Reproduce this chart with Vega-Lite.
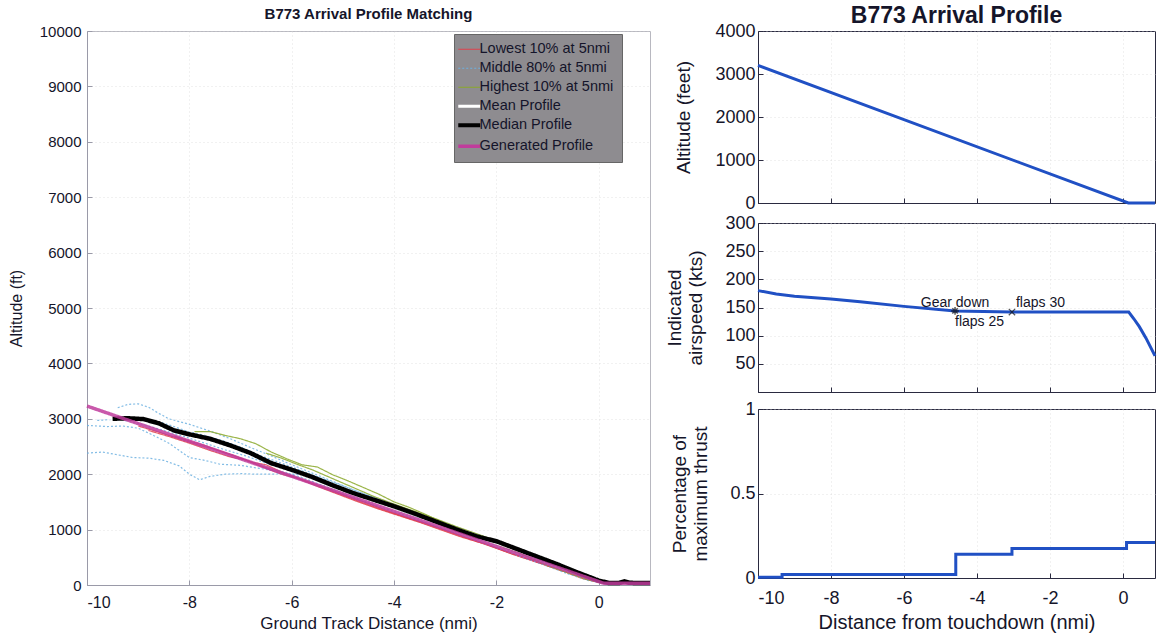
{
  "$schema": "https://vega.github.io/schema/vega-lite/v6.json",
  "padding": {"left": 7, "top": 4, "right": 0, "bottom": 0},
  "background": "white",
  "config": {
    "font": "Liberation Sans",
    "axis": {"labelFont": "Liberation Sans", "titleFont": "Liberation Sans", "labelColor": "#15152a", "titleColor": "#15152a", "titleFontWeight": "normal", "domainColor": "#2a2a40", "tickColor": "#2a2a40", "gridColor": "#d0d0d0", "gridDash": [1, 3], "gridOpacity": 0.6, "tickSize": -5, "labelPadding": 6, "labelOverlap": false},
    "title": {"font": "Liberation Sans", "fontWeight": "bold", "color": "#15152a", "frame": "group", "anchor": "middle"},
    "legend": {"labelFont": "Liberation Sans"}
  },
  "datasets": {
    "traj": [
      {"id": "gen", "g": "gen", "x": -10, "y": 3230}, {"id": "gen", "g": "gen", "x": 0.1, "y": 30}, {"id": "gen", "g": "gen", "x": 1.0, "y": 30},
      {"id": "med", "g": "med", "x": -9.5, "y": 3000}, {"id": "med", "g": "med", "x": -9.2, "y": 3010}, {"id": "med", "g": "med", "x": -8.9, "y": 2995}, {"id": "med", "g": "med", "x": -8.6, "y": 2920}, {"id": "med", "g": "med", "x": -8.3, "y": 2790}, {"id": "med", "g": "med", "x": -8.0, "y": 2720}, {"id": "med", "g": "med", "x": -7.6, "y": 2640}, {"id": "med", "g": "med", "x": -7.2, "y": 2520}, {"id": "med", "g": "med", "x": -6.8, "y": 2380}, {"id": "med", "g": "med", "x": -6.4, "y": 2200}, {"id": "med", "g": "med", "x": -6.0, "y": 2080}, {"id": "med", "g": "med", "x": -5.6, "y": 1950}, {"id": "med", "g": "med", "x": -5.2, "y": 1800}, {"id": "med", "g": "med", "x": -4.8, "y": 1660}, {"id": "med", "g": "med", "x": -4.4, "y": 1540}, {"id": "med", "g": "med", "x": -4.0, "y": 1420}, {"id": "med", "g": "med", "x": -3.6, "y": 1290}, {"id": "med", "g": "med", "x": -3.2, "y": 1150}, {"id": "med", "g": "med", "x": -2.8, "y": 1010}, {"id": "med", "g": "med", "x": -2.4, "y": 880}, {"id": "med", "g": "med", "x": -2.0, "y": 790}, {"id": "med", "g": "med", "x": -1.6, "y": 650}, {"id": "med", "g": "med", "x": -1.2, "y": 510}, {"id": "med", "g": "med", "x": -0.8, "y": 370}, {"id": "med", "g": "med", "x": -0.4, "y": 220}, {"id": "med", "g": "med", "x": 0.0, "y": 80}, {"id": "med", "g": "med", "x": 0.2, "y": 35}, {"id": "med", "g": "med", "x": 0.4, "y": 38}, {"id": "med", "g": "med", "x": 0.5, "y": 65}, {"id": "med", "g": "med", "x": 0.6, "y": 40}, {"id": "med", "g": "med", "x": 0.8, "y": 35}, {"id": "med", "g": "med", "x": 1.0, "y": 35},
      {"id": "mean", "g": "mean", "x": -9.6, "y": 3010}, {"id": "mean", "g": "mean", "x": -9.0, "y": 2960}, {"id": "mean", "g": "mean", "x": -8.5, "y": 2830}, {"id": "mean", "g": "mean", "x": -8.0, "y": 2690}, {"id": "mean", "g": "mean", "x": -7.5, "y": 2560}, {"id": "mean", "g": "mean", "x": -7.0, "y": 2420}, {"id": "mean", "g": "mean", "x": -6.5, "y": 2240}, {"id": "mean", "g": "mean", "x": -6.0, "y": 2060}, {"id": "mean", "g": "mean", "x": -5.5, "y": 1900}, {"id": "mean", "g": "mean", "x": -5.0, "y": 1720}, {"id": "mean", "g": "mean", "x": -4.5, "y": 1540}, {"id": "mean", "g": "mean", "x": -4.0, "y": 1380}, {"id": "mean", "g": "mean", "x": -3.5, "y": 1230}, {"id": "mean", "g": "mean", "x": -3.0, "y": 1060}, {"id": "mean", "g": "mean", "x": -2.5, "y": 900}, {"id": "mean", "g": "mean", "x": -2.0, "y": 750}, {"id": "mean", "g": "mean", "x": -1.5, "y": 590}, {"id": "mean", "g": "mean", "x": -1.0, "y": 430}, {"id": "mean", "g": "mean", "x": -0.5, "y": 270}, {"id": "mean", "g": "mean", "x": 0.0, "y": 100}, {"id": "mean", "g": "mean", "x": 0.2, "y": 35}, {"id": "mean", "g": "mean", "x": 1.0, "y": 35},
      {"id": "L1", "g": "L", "x": -9.0, "y": 2870}, {"id": "L1", "g": "L", "x": -8.6, "y": 2760}, {"id": "L1", "g": "L", "x": -8.2, "y": 2640}, {"id": "L1", "g": "L", "x": -7.8, "y": 2520}, {"id": "L1", "g": "L", "x": -7.5, "y": 2450}, {"id": "L1", "g": "L", "x": -7.2, "y": 2360}, {"id": "L1", "g": "L", "x": -6.8, "y": 2220}, {"id": "L1", "g": "L", "x": -6.5, "y": 2170}, {"id": "L1", "g": "L", "x": -6.2, "y": 2040}, {"id": "L1", "g": "L", "x": -5.8, "y": 1900}, {"id": "L1", "g": "L", "x": -5.4, "y": 1760}, {"id": "L1", "g": "L", "x": -5.0, "y": 1620}, {"id": "L1", "g": "L", "x": -4.6, "y": 1480}, {"id": "L1", "g": "L", "x": -4.2, "y": 1350}, {"id": "L1", "g": "L", "x": -3.8, "y": 1230}, {"id": "L1", "g": "L", "x": -3.4, "y": 1120}, {"id": "L1", "g": "L", "x": -3.0, "y": 990}, {"id": "L1", "g": "L", "x": -2.6, "y": 860}, {"id": "L1", "g": "L", "x": -2.2, "y": 740}, {"id": "L1", "g": "L", "x": -1.8, "y": 600}, {"id": "L1", "g": "L", "x": -1.4, "y": 480}, {"id": "L1", "g": "L", "x": -1.0, "y": 350}, {"id": "L1", "g": "L", "x": -0.6, "y": 230}, {"id": "L1", "g": "L", "x": -0.2, "y": 100}, {"id": "L1", "g": "L", "x": 0.1, "y": 30}, {"id": "L1", "g": "L", "x": 0.8, "y": 30},
      {"id": "L2", "g": "L", "x": -8.8, "y": 2790}, {"id": "L2", "g": "L", "x": -8.4, "y": 2680}, {"id": "L2", "g": "L", "x": -8.0, "y": 2560}, {"id": "L2", "g": "L", "x": -7.6, "y": 2430}, {"id": "L2", "g": "L", "x": -7.2, "y": 2310}, {"id": "L2", "g": "L", "x": -6.9, "y": 2260}, {"id": "L2", "g": "L", "x": -6.6, "y": 2140}, {"id": "L2", "g": "L", "x": -6.2, "y": 2000}, {"id": "L2", "g": "L", "x": -5.9, "y": 1930}, {"id": "L2", "g": "L", "x": -5.5, "y": 1780}, {"id": "L2", "g": "L", "x": -5.1, "y": 1640}, {"id": "L2", "g": "L", "x": -4.7, "y": 1500}, {"id": "L2", "g": "L", "x": -4.3, "y": 1370}, {"id": "L2", "g": "L", "x": -3.9, "y": 1250}, {"id": "L2", "g": "L", "x": -3.5, "y": 1130}, {"id": "L2", "g": "L", "x": -3.1, "y": 1000}, {"id": "L2", "g": "L", "x": -2.7, "y": 870}, {"id": "L2", "g": "L", "x": -2.3, "y": 760}, {"id": "L2", "g": "L", "x": -1.9, "y": 630}, {"id": "L2", "g": "L", "x": -1.5, "y": 500}, {"id": "L2", "g": "L", "x": -1.1, "y": 380}, {"id": "L2", "g": "L", "x": -0.7, "y": 250}, {"id": "L2", "g": "L", "x": -0.3, "y": 110}, {"id": "L2", "g": "L", "x": 0.1, "y": 30}, {"id": "L2", "g": "L", "x": 0.9, "y": 30},
      {"id": "L3", "g": "L", "x": -8.3, "y": 2690}, {"id": "L3", "g": "L", "x": -8.0, "y": 2600}, {"id": "L3", "g": "L", "x": -7.7, "y": 2520}, {"id": "L3", "g": "L", "x": -7.3, "y": 2380}, {"id": "L3", "g": "L", "x": -7.0, "y": 2290}, {"id": "L3", "g": "L", "x": -6.6, "y": 2150}, {"id": "L3", "g": "L", "x": -6.3, "y": 2060}, {"id": "L3", "g": "L", "x": -6.0, "y": 1960}, {"id": "L3", "g": "L", "x": -5.7, "y": 1870}, {"id": "L3", "g": "L", "x": -5.3, "y": 1740}, {"id": "L3", "g": "L", "x": -4.9, "y": 1600}, {"id": "L3", "g": "L", "x": -4.5, "y": 1470}, {"id": "L3", "g": "L", "x": -4.1, "y": 1330}, {"id": "L3", "g": "L", "x": -3.7, "y": 1200}, {"id": "L3", "g": "L", "x": -3.3, "y": 1080}, {"id": "L3", "g": "L", "x": -2.9, "y": 950}, {"id": "L3", "g": "L", "x": -2.5, "y": 820}, {"id": "L3", "g": "L", "x": -2.1, "y": 700}, {"id": "L3", "g": "L", "x": -1.7, "y": 560}, {"id": "L3", "g": "L", "x": -1.3, "y": 440}, {"id": "L3", "g": "L", "x": -0.9, "y": 310}, {"id": "L3", "g": "L", "x": -0.5, "y": 190}, {"id": "L3", "g": "L", "x": -0.1, "y": 70}, {"id": "L3", "g": "L", "x": 0.1, "y": 30}, {"id": "L3", "g": "L", "x": 0.7, "y": 30},
      {"id": "M1", "g": "M", "x": -10, "y": 2380}, {"id": "M1", "g": "M", "x": -9.7, "y": 2400}, {"id": "M1", "g": "M", "x": -9.4, "y": 2350}, {"id": "M1", "g": "M", "x": -9.1, "y": 2300}, {"id": "M1", "g": "M", "x": -8.8, "y": 2290}, {"id": "M1", "g": "M", "x": -8.5, "y": 2250}, {"id": "M1", "g": "M", "x": -8.2, "y": 2150}, {"id": "M1", "g": "M", "x": -8.0, "y": 2000}, {"id": "M1", "g": "M", "x": -7.8, "y": 1900}, {"id": "M1", "g": "M", "x": -7.6, "y": 1960}, {"id": "M1", "g": "M", "x": -7.3, "y": 2000}, {"id": "M1", "g": "M", "x": -7.0, "y": 2010}, {"id": "M1", "g": "M", "x": -6.7, "y": 2000}, {"id": "M1", "g": "M", "x": -6.4, "y": 2000}, {"id": "M1", "g": "M", "x": -6.1, "y": 2010}, {"id": "M1", "g": "M", "x": -5.8, "y": 1990}, {"id": "M1", "g": "M", "x": -5.5, "y": 1900}, {"id": "M1", "g": "M", "x": -5.1, "y": 1760}, {"id": "M1", "g": "M", "x": -4.7, "y": 1620}, {"id": "M1", "g": "M", "x": -4.3, "y": 1480}, {"id": "M1", "g": "M", "x": -3.9, "y": 1340}, {"id": "M1", "g": "M", "x": -3.5, "y": 1210}, {"id": "M1", "g": "M", "x": -3.1, "y": 1080}, {"id": "M1", "g": "M", "x": -2.7, "y": 940}, {"id": "M1", "g": "M", "x": -2.3, "y": 810}, {"id": "M1", "g": "M", "x": -1.9, "y": 680}, {"id": "M1", "g": "M", "x": -1.5, "y": 540}, {"id": "M1", "g": "M", "x": -1.1, "y": 410}, {"id": "M1", "g": "M", "x": -0.7, "y": 270}, {"id": "M1", "g": "M", "x": -0.3, "y": 130}, {"id": "M1", "g": "M", "x": 0.1, "y": 40}, {"id": "M1", "g": "M", "x": 0.6, "y": 40},
      {"id": "M2", "g": "M", "x": -9.4, "y": 3200}, {"id": "M2", "g": "M", "x": -9.2, "y": 3260}, {"id": "M2", "g": "M", "x": -9.0, "y": 3270}, {"id": "M2", "g": "M", "x": -8.8, "y": 3210}, {"id": "M2", "g": "M", "x": -8.6, "y": 3100}, {"id": "M2", "g": "M", "x": -8.4, "y": 3000}, {"id": "M2", "g": "M", "x": -8.0, "y": 2900}, {"id": "M2", "g": "M", "x": -7.6, "y": 2780}, {"id": "M2", "g": "M", "x": -7.2, "y": 2640}, {"id": "M2", "g": "M", "x": -6.8, "y": 2480}, {"id": "M2", "g": "M", "x": -6.4, "y": 2330}, {"id": "M2", "g": "M", "x": -6.0, "y": 2170}, {"id": "M2", "g": "M", "x": -5.6, "y": 2020}, {"id": "M2", "g": "M", "x": -5.2, "y": 1870}, {"id": "M2", "g": "M", "x": -4.8, "y": 1720}, {"id": "M2", "g": "M", "x": -4.4, "y": 1580}, {"id": "M2", "g": "M", "x": -4.0, "y": 1440}, {"id": "M2", "g": "M", "x": -3.6, "y": 1300}, {"id": "M2", "g": "M", "x": -3.2, "y": 1160}, {"id": "M2", "g": "M", "x": -2.8, "y": 1030}, {"id": "M2", "g": "M", "x": -2.4, "y": 900}, {"id": "M2", "g": "M", "x": -2.0, "y": 780}, {"id": "M2", "g": "M", "x": -1.6, "y": 640}, {"id": "M2", "g": "M", "x": -1.2, "y": 500}, {"id": "M2", "g": "M", "x": -0.8, "y": 360}, {"id": "M2", "g": "M", "x": -0.4, "y": 210}, {"id": "M2", "g": "M", "x": 0.0, "y": 70}, {"id": "M2", "g": "M", "x": 0.2, "y": 35}, {"id": "M2", "g": "M", "x": 0.8, "y": 35},
      {"id": "M3", "g": "M", "x": -10, "y": 2880}, {"id": "M3", "g": "M", "x": -9.6, "y": 2860}, {"id": "M3", "g": "M", "x": -9.3, "y": 2870}, {"id": "M3", "g": "M", "x": -9.0, "y": 2830}, {"id": "M3", "g": "M", "x": -8.7, "y": 2700}, {"id": "M3", "g": "M", "x": -8.4, "y": 2560}, {"id": "M3", "g": "M", "x": -8.0, "y": 2300}, {"id": "M3", "g": "M", "x": -7.7, "y": 2250}, {"id": "M3", "g": "M", "x": -7.4, "y": 2180}, {"id": "M3", "g": "M", "x": -7.0, "y": 2160}, {"id": "M3", "g": "M", "x": -6.6, "y": 2100}, {"id": "M3", "g": "M", "x": -6.2, "y": 2050}, {"id": "M3", "g": "M", "x": -5.8, "y": 1940}, {"id": "M3", "g": "M", "x": -5.4, "y": 1800}, {"id": "M3", "g": "M", "x": -5.0, "y": 1660}, {"id": "M3", "g": "M", "x": -4.6, "y": 1520}, {"id": "M3", "g": "M", "x": -4.2, "y": 1390}, {"id": "M3", "g": "M", "x": -3.8, "y": 1260}, {"id": "M3", "g": "M", "x": -3.4, "y": 1130}, {"id": "M3", "g": "M", "x": -3.0, "y": 1000}, {"id": "M3", "g": "M", "x": -2.6, "y": 870}, {"id": "M3", "g": "M", "x": -2.2, "y": 740}, {"id": "M3", "g": "M", "x": -1.8, "y": 610}, {"id": "M3", "g": "M", "x": -1.4, "y": 470}, {"id": "M3", "g": "M", "x": -1.0, "y": 340}, {"id": "M3", "g": "M", "x": -0.6, "y": 200}, {"id": "M3", "g": "M", "x": -0.2, "y": 80}, {"id": "M3", "g": "M", "x": 0.1, "y": 35}, {"id": "M3", "g": "M", "x": 0.7, "y": 35},
      {"id": "M4", "g": "M", "x": -9.0, "y": 3000}, {"id": "M4", "g": "M", "x": -8.6, "y": 2950}, {"id": "M4", "g": "M", "x": -8.3, "y": 2860}, {"id": "M4", "g": "M", "x": -8.0, "y": 2760}, {"id": "M4", "g": "M", "x": -7.7, "y": 2700}, {"id": "M4", "g": "M", "x": -7.4, "y": 2620}, {"id": "M4", "g": "M", "x": -7.0, "y": 2490}, {"id": "M4", "g": "M", "x": -6.6, "y": 2330}, {"id": "M4", "g": "M", "x": -6.2, "y": 2200}, {"id": "M4", "g": "M", "x": -5.8, "y": 2060}, {"id": "M4", "g": "M", "x": -5.4, "y": 1920}, {"id": "M4", "g": "M", "x": -5.0, "y": 1790}, {"id": "M4", "g": "M", "x": -4.6, "y": 1650}, {"id": "M4", "g": "M", "x": -4.2, "y": 1520}, {"id": "M4", "g": "M", "x": -3.8, "y": 1380}, {"id": "M4", "g": "M", "x": -3.4, "y": 1250}, {"id": "M4", "g": "M", "x": -3.0, "y": 1120}, {"id": "M4", "g": "M", "x": -2.6, "y": 980}, {"id": "M4", "g": "M", "x": -2.2, "y": 860}, {"id": "M4", "g": "M", "x": -1.8, "y": 720}, {"id": "M4", "g": "M", "x": -1.4, "y": 580}, {"id": "M4", "g": "M", "x": -1.0, "y": 440}, {"id": "M4", "g": "M", "x": -0.6, "y": 300}, {"id": "M4", "g": "M", "x": -0.2, "y": 150}, {"id": "M4", "g": "M", "x": 0.1, "y": 40}, {"id": "M4", "g": "M", "x": 0.9, "y": 40},
      {"id": "M5", "g": "M", "x": -8.7, "y": 2880}, {"id": "M5", "g": "M", "x": -8.4, "y": 2800}, {"id": "M5", "g": "M", "x": -8.1, "y": 2740}, {"id": "M5", "g": "M", "x": -7.8, "y": 2650}, {"id": "M5", "g": "M", "x": -7.4, "y": 2560}, {"id": "M5", "g": "M", "x": -7.0, "y": 2430}, {"id": "M5", "g": "M", "x": -6.6, "y": 2290}, {"id": "M5", "g": "M", "x": -6.2, "y": 2150}, {"id": "M5", "g": "M", "x": -5.8, "y": 2000}, {"id": "M5", "g": "M", "x": -5.4, "y": 1870}, {"id": "M5", "g": "M", "x": -5.0, "y": 1730}, {"id": "M5", "g": "M", "x": -4.6, "y": 1590}, {"id": "M5", "g": "M", "x": -4.2, "y": 1460}, {"id": "M5", "g": "M", "x": -3.8, "y": 1330}, {"id": "M5", "g": "M", "x": -3.4, "y": 1200}, {"id": "M5", "g": "M", "x": -3.0, "y": 1060}, {"id": "M5", "g": "M", "x": -2.6, "y": 930}, {"id": "M5", "g": "M", "x": -2.2, "y": 800}, {"id": "M5", "g": "M", "x": -1.8, "y": 670}, {"id": "M5", "g": "M", "x": -1.4, "y": 530}, {"id": "M5", "g": "M", "x": -1.0, "y": 400}, {"id": "M5", "g": "M", "x": -0.6, "y": 260}, {"id": "M5", "g": "M", "x": -0.2, "y": 120}, {"id": "M5", "g": "M", "x": 0.1, "y": 35}, {"id": "M5", "g": "M", "x": 1.0, "y": 35},
      {"id": "M6", "g": "M", "x": -9.8, "y": 2970}, {"id": "M6", "g": "M", "x": -9.5, "y": 2990}, {"id": "M6", "g": "M", "x": -9.2, "y": 2960}, {"id": "M6", "g": "M", "x": -8.9, "y": 2900}, {"id": "M6", "g": "M", "x": -8.5, "y": 2790}, {"id": "M6", "g": "M", "x": -8.1, "y": 2680}, {"id": "M6", "g": "M", "x": -7.7, "y": 2560}, {"id": "M6", "g": "M", "x": -7.3, "y": 2440}, {"id": "M6", "g": "M", "x": -6.9, "y": 2330}, {"id": "M6", "g": "M", "x": -6.5, "y": 2200}, {"id": "M6", "g": "M", "x": -6.1, "y": 2080}, {"id": "M6", "g": "M", "x": -5.7, "y": 1960}, {"id": "M6", "g": "M", "x": -5.3, "y": 1820}, {"id": "M6", "g": "M", "x": -4.9, "y": 1690}, {"id": "M6", "g": "M", "x": -4.5, "y": 1560}, {"id": "M6", "g": "M", "x": -4.1, "y": 1430}, {"id": "M6", "g": "M", "x": -3.7, "y": 1300}, {"id": "M6", "g": "M", "x": -3.3, "y": 1160}, {"id": "M6", "g": "M", "x": -2.9, "y": 1020}, {"id": "M6", "g": "M", "x": -2.5, "y": 900}, {"id": "M6", "g": "M", "x": -2.1, "y": 770}, {"id": "M6", "g": "M", "x": -1.7, "y": 630}, {"id": "M6", "g": "M", "x": -1.3, "y": 490}, {"id": "M6", "g": "M", "x": -0.9, "y": 350}, {"id": "M6", "g": "M", "x": -0.5, "y": 210}, {"id": "M6", "g": "M", "x": -0.1, "y": 80}, {"id": "M6", "g": "M", "x": 0.1, "y": 35}, {"id": "M6", "g": "M", "x": 0.6, "y": 35},
      {"id": "H1", "g": "H", "x": -7.9, "y": 2770}, {"id": "H1", "g": "H", "x": -7.6, "y": 2770}, {"id": "H1", "g": "H", "x": -7.3, "y": 2700}, {"id": "H1", "g": "H", "x": -7.0, "y": 2640}, {"id": "H1", "g": "H", "x": -6.7, "y": 2550}, {"id": "H1", "g": "H", "x": -6.4, "y": 2400}, {"id": "H1", "g": "H", "x": -6.1, "y": 2280}, {"id": "H1", "g": "H", "x": -5.8, "y": 2170}, {"id": "H1", "g": "H", "x": -5.5, "y": 2130}, {"id": "H1", "g": "H", "x": -5.2, "y": 1990}, {"id": "H1", "g": "H", "x": -4.9, "y": 1880}, {"id": "H1", "g": "H", "x": -4.6, "y": 1760}, {"id": "H1", "g": "H", "x": -4.3, "y": 1640}, {"id": "H1", "g": "H", "x": -4.0, "y": 1500}, {"id": "H1", "g": "H", "x": -3.7, "y": 1400}, {"id": "H1", "g": "H", "x": -3.4, "y": 1280}, {"id": "H1", "g": "H", "x": -3.1, "y": 1150}, {"id": "H1", "g": "H", "x": -2.8, "y": 1040}, {"id": "H1", "g": "H", "x": -2.5, "y": 920}, {"id": "H1", "g": "H", "x": -2.2, "y": 820}, {"id": "H1", "g": "H", "x": -1.9, "y": 700}, {"id": "H1", "g": "H", "x": -1.6, "y": 600}, {"id": "H1", "g": "H", "x": -1.3, "y": 470}, {"id": "H1", "g": "H", "x": -1.0, "y": 350}, {"id": "H1", "g": "H", "x": -0.6, "y": 220}, {"id": "H1", "g": "H", "x": -0.2, "y": 90}, {"id": "H1", "g": "H", "x": 0.1, "y": 35},
      {"id": "H2", "g": "H", "x": -6.5, "y": 2380}, {"id": "H2", "g": "H", "x": -6.2, "y": 2290}, {"id": "H2", "g": "H", "x": -5.9, "y": 2180}, {"id": "H2", "g": "H", "x": -5.6, "y": 2080}, {"id": "H2", "g": "H", "x": -5.3, "y": 1960}, {"id": "H2", "g": "H", "x": -5.0, "y": 1840}, {"id": "H2", "g": "H", "x": -4.7, "y": 1720}, {"id": "H2", "g": "H", "x": -4.4, "y": 1600}, {"id": "H2", "g": "H", "x": -4.0, "y": 1460}, {"id": "H2", "g": "H", "x": -3.6, "y": 1330}, {"id": "H2", "g": "H", "x": -3.2, "y": 1200}, {"id": "H2", "g": "H", "x": -2.8, "y": 1060}, {"id": "H2", "g": "H", "x": -2.4, "y": 930}, {"id": "H2", "g": "H", "x": -2.0, "y": 800}, {"id": "H2", "g": "H", "x": -1.6, "y": 660}, {"id": "H2", "g": "H", "x": -1.2, "y": 520}, {"id": "H2", "g": "H", "x": -0.8, "y": 380}, {"id": "H2", "g": "H", "x": -0.4, "y": 230}, {"id": "H2", "g": "H", "x": 0.0, "y": 90}, {"id": "H2", "g": "H", "x": 0.15, "y": 35}
    ],
    "alt": [{"x": -10, "y": 3200}, {"x": 0.15, "y": 0}, {"x": 0.88, "y": 0}],
    "ias": [{"x": -10, "y": 180}, {"x": -9.5, "y": 174}, {"x": -9.0, "y": 170}, {"x": -8.0, "y": 165}, {"x": -7.2, "y": 160}, {"x": -6.0, "y": 152}, {"x": -4.6, "y": 144}, {"x": -3.04, "y": 142}, {"x": 0.16, "y": 142}, {"x": 0.3, "y": 130}, {"x": 0.45, "y": 116}, {"x": 0.63, "y": 96}, {"x": 0.88, "y": 64}],
    "thr": [{"x": -10, "y": 0.005}, {"x": -9.34, "y": 0.02}, {"x": -4.58, "y": 0.14}, {"x": -3.04, "y": 0.175}, {"x": 0.1, "y": 0.21}, {"x": 0.88, "y": 0.21}],
    "events": [
      {"x": -4.6, "y": 144, "label": "Gear down", "pos": "above"},
      {"x": -4.6, "y": 144, "label": "flaps 25", "pos": "below"},
      {"x": -3.04, "y": 142, "label": "flaps 30", "pos": "right"}
    ]
  },
  "hconcat": [
    {
      "width": 563,
      "height": 554,
      "title": {"text": "B773 Arrival Profile Matching", "fontSize": 15, "offset": 2},
      "view": {"stroke": "#b8b8c0"},
      "data": {"name": "traj"},
      "encoding": {
        "x": {"field": "x", "type": "quantitative", "scale": {"domain": [-10, 1], "nice": false, "zero": false}, "axis": {"values": [-10, -8, -6, -4, -2, 0], "title": "Ground Track Distance (nmi)", "titleFontSize": 17, "labelFontSize": 16, "labelExpr": "'' + datum.value", "domainColor": "#9a9aa8", "tickColor": "#9a9aa8", "labelPadding": 14, "titlePadding": 5}},
        "y": {"field": "y", "type": "quantitative", "scale": {"domain": [0, 10000], "nice": false}, "axis": {"values": [0, 1000, 2000, 3000, 4000, 5000, 6000, 7000, 8000, 9000, 10000], "title": "Altitude (ft)", "titleFontSize": 16, "labelFontSize": 15, "format": "d", "domainColor": "#9a9aa8", "tickColor": "#9a9aa8", "labelPadding": 11, "titlePadding": 15}},
        "color": {"field": "g", "type": "nominal", "scale": {"domain": ["L", "M", "H", "mean", "med", "gen"], "range": ["#e0404c", "#6cb0e0", "#8aa82a", "#ffffff", "#000000", "#c03c9c"]},
          "legend": {"title": null, "orient": "none", "legendX": 367, "legendY": 3, "fillColor": "#8e8c90", "strokeColor": "#666", "padding": 8, "rowPadding": 4, "labelFontSize": 14.5, "labelColor": "#14142a", "symbolType": "stroke", "symbolSize": 484, "labelOffset": 3,
            "labelExpr": "{'L': 'Lowest 10% at 5nmi', 'M': 'Middle 80% at 5nmi', 'H': 'Highest 10% at 5nmi', 'mean': 'Mean Profile', 'med': 'Median Profile', 'gen': 'Generated Profile'}[datum.label]",
            "encode": {"symbols": {"update": {"strokeWidth": {"signal": "datum.value === 'med' ? 4 : datum.value === 'gen' ? 3.5 : datum.value === 'mean' ? 3 : 1.2"}}}}}},
        "strokeDash": {"field": "g", "type": "nominal", "scale": {"domain": ["L", "M", "H", "mean", "med", "gen"], "range": [[1, 0], [2, 2], [1, 0], [1, 0], [1, 0], [1, 0]]},
          "legend": {"title": null, "orient": "none", "legendX": 367, "legendY": 3, "fillColor": "#8e8c90", "strokeColor": "#666", "padding": 8, "rowPadding": 4, "labelFontSize": 14.5, "labelColor": "#14142a", "symbolType": "stroke", "symbolSize": 484, "labelOffset": 3,
            "labelExpr": "{'L': 'Lowest 10% at 5nmi', 'M': 'Middle 80% at 5nmi', 'H': 'Highest 10% at 5nmi', 'mean': 'Mean Profile', 'med': 'Median Profile', 'gen': 'Generated Profile'}[datum.label]",
            "encode": {"symbols": {"update": {"strokeWidth": {"signal": "datum.value === 'med' ? 4 : datum.value === 'gen' ? 3.5 : datum.value === 'mean' ? 3 : 1.2"}}}}}},
        "detail": {"field": "id"}
      },
      "layer": [
        {"transform": [{"filter": "datum.g == 'L' || datum.g == 'M' || datum.g == 'H'"}], "mark": {"type": "line", "opacity": 0.85, "strokeWidth": 1.2}},
        {"transform": [{"filter": "datum.g == 'mean'"}], "mark": {"type": "line", "strokeWidth": 2.5}},
        {"transform": [{"filter": "datum.g == 'med'"}], "mark": {"type": "line", "strokeWidth": 4.5}},
        {"transform": [{"filter": "datum.g == 'gen'"}], "mark": {"type": "line", "strokeWidth": 3.5, "opacity": 0.85}}
      ]
    },
    {
      "vconcat": [
        {
          "width": 397,
          "height": 172,
          "title": {"text": "B773 Arrival Profile", "fontSize": 23, "offset": -6},
          "view": {"stroke": "#2a2a40"},
          "data": {"name": "alt"},
          "mark": {"type": "line", "color": "#2050c4", "strokeWidth": 3},
          "encoding": {
            "x": {"field": "x", "type": "quantitative", "scale": {"domain": [-10, 0.88], "nice": false, "zero": false}, "axis": {"values": [-10, -8, -6, -4, -2, 0], "labels": false, "title": null}},
            "y": {"field": "y", "type": "quantitative", "scale": {"domain": [0, 4000], "nice": false}, "axis": {"values": [0, 1000, 2000, 3000, 4000], "title": "Altitude (feet)", "titleFontSize": 19, "labelFontSize": 18, "format": "d", "labelPadding": 8, "titlePadding": 21}}
          }
        },
        {
          "vconcat": [
            {
              "width": 397,
              "height": 169,
              "view": {"stroke": "#2a2a40"},
              "encoding": {
                "x": {"field": "x", "type": "quantitative", "scale": {"domain": [-10, 0.88], "nice": false, "zero": false}, "axis": {"values": [-10, -8, -6, -4, -2, 0], "labels": false, "title": null}},
                "y": {"field": "y", "type": "quantitative", "scale": {"domain": [0, 300], "nice": false}, "axis": {"values": [50, 100, 150, 200, 250, 300], "title": ["Indicated", "airspeed (kts)"], "titleFontSize": 19, "labelFontSize": 18, "titleLineHeight": 21, "labelPadding": 8, "titlePadding": 19, "labelOverlap": false, "labelFlush": false}}
              },
              "layer": [
                {
                  "data": {"name": "ias"},
                  "mark": {"type": "line", "color": "#2050c4", "strokeWidth": 3}
                },
                {
                  "data": {"name": "events"},
                  "transform": [{"filter": "datum.pos == 'above'"}],
                  "mark": {"type": "point", "shape": "M-1,0L1,0M0,-1L0,1M-0.7,-0.7L0.7,0.7M-0.7,0.7L0.7,-0.7", "filled": false, "color": "#111", "strokeWidth": 1.5, "size": 60}
                },
                {
                  "data": {"name": "events"},
                  "transform": [{"filter": "datum.pos == 'right'"}],
                  "mark": {"type": "point", "shape": "M-1,-1L1,1M-1,1L1,-1", "filled": false, "color": "#111", "strokeWidth": 1.3, "size": 40}
                },
                {
                  "data": {"name": "events"},
                  "transform": [{"filter": "datum.pos == 'above'"}],
                  "mark": {"type": "text", "align": "center", "baseline": "middle", "dy": -8, "fontSize": 14, "font": "Liberation Sans", "color": "#15152a"},
                  "encoding": {"text": {"field": "label"}}
                },
                {
                  "data": {"name": "events"},
                  "transform": [{"filter": "datum.pos == 'below'"}],
                  "mark": {"type": "text", "align": "left", "baseline": "middle", "dy": 11, "dx": 0, "fontSize": 14, "font": "Liberation Sans", "color": "#15152a"},
                  "encoding": {"text": {"field": "label"}}
                },
                {
                  "data": {"name": "events"},
                  "transform": [{"filter": "datum.pos == 'right'"}],
                  "mark": {"type": "text", "align": "left", "baseline": "middle", "dy": -9, "dx": 4, "fontSize": 14, "font": "Liberation Sans", "color": "#15152a"},
                  "encoding": {"text": {"field": "label"}}
                }
              ]
            },
            {
              "width": 397,
              "height": 169,
              "view": {"stroke": "#2a2a40"},
              "data": {"name": "thr"},
              "mark": {"type": "line", "color": "#2050c4", "strokeWidth": 3, "interpolate": "step-after"},
              "encoding": {
                "x": {"field": "x", "type": "quantitative", "scale": {"domain": [-10, 0.88], "nice": false, "zero": false}, "axis": {"values": [-10, -8, -6, -4, -2, 0], "title": "Distance from touchdown (nmi)", "titleFontSize": 20, "labelFontSize": 18, "labelExpr": "'' + datum.value", "labelPadding": 16, "titlePadding": 5}},
                "y": {"field": "y", "type": "quantitative", "scale": {"domain": [0, 1], "nice": false}, "axis": {"values": [0, 0.5, 1], "title": ["Percentage of", "maximum thrust"], "titleFontSize": 19, "labelFontSize": 18, "format": "~g", "titleLineHeight": 21, "labelPadding": 8, "titlePadding": 19}}
              }
            }
          ],
          "spacing": 17,
          "bounds": "flush"
        }
      ],
      "spacing": 20,
      "bounds": "flush"
    }
  ],
  "spacing": 108,
  "bounds": "flush"
}
